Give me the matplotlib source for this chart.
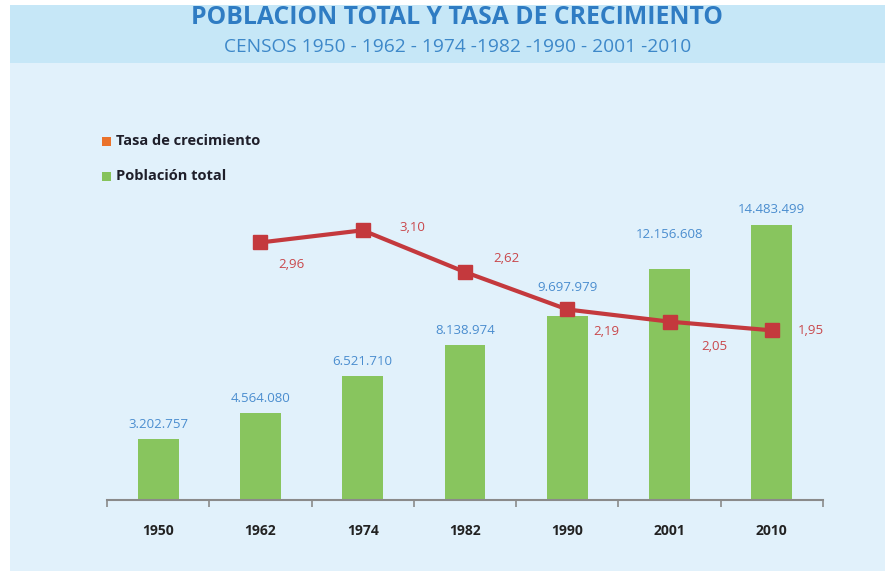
import matplotlib
matplotlib.use("Agg")
import matplotlib.pyplot as plt
from matplotlib.patches import Rectangle

years = ["1950", "1962", "1974", "1982", "1990", "2001", "2010"]
population = [3202757, 4564080, 6521710, 8138974, 9697979, 12156608, 14483499]
pop_labels = ["3.202.757", "4.564.080", "6.521.710", "8.138.974", "9.697.979", "12.156.608", "14.483.499"]
rate_years = ["1962", "1974", "1982", "1990", "2001", "2010"]
rate = [2.96, 3.10, 2.62, 2.19, 2.05, 1.95]
rate_labels = ["2,96", "3,10", "2,62", "2,19", "2,05", "1,95"]

FONT = "Open Sans"
plt.rcParams["font.family"] = [FONT, "DejaVu Sans"]

fig = plt.figure(figsize=(8.85, 5.71), dpi=100)
fig.patch.set_facecolor("white")
# background panels
fig.add_artist(Rectangle((10/885, 0), 1, 1 - 63/571, transform=fig.transFigure,
                         facecolor="#e1f1fb", edgecolor="none", zorder=0))
fig.add_artist(Rectangle((10/885, 1 - 63/571), 1, (63 - 5)/571, transform=fig.transFigure,
                         facecolor="#c6e7f7", edgecolor="none", zorder=0))

fig.text(457/885, 1 - 18/571, "POBLACION TOTAL Y TASA DE CRECIMIENTO", ha="center", va="center",
         fontsize=17.8, fontweight="bold", color="#2f7cc3")
fig.text(458/885, 1 - 47/571, "CENSOS 1950 - 1962 - 1974 -1982 -1990 - 2001 -2010", ha="center",
         va="center", fontsize=13.8, color="#3d88c9")

ax = fig.add_axes([107/885, 1 - 500/571, (823 - 107)/885, 300/571])
ax.set_facecolor("none")
x = list(range(len(years)))
ax.bar(x, population, width=0.4, color="#88c55e", zorder=2)
ax.set_xlim(-0.5, len(years) - 0.5)
ax.set_ylim(0, 300/19.0 * 1e6)

pop_off = [6, 6, 6, 6, 16, 20, 6]
for xi, v, lab, off in zip(x, population, pop_labels, pop_off):
    ax.annotate(lab, (xi, v), xytext=(0, off), textcoords="offset points", ha="center", va="bottom",
                fontsize=9.5, color="#4a8dcf")

for s in ["top", "right", "left"]:
    ax.spines[s].set_visible(False)
ax.spines["bottom"].set_color("#8a8a8a")
ax.spines["bottom"].set_linewidth(1.5)
ax.set_yticks([])
ax.set_xticks([i - 0.5 for i in range(len(years) + 1)], minor=False)
ax.set_xticklabels([])
ax.tick_params(axis="x", which="major", length=5, width=1.2, color="#8a8a8a", direction="out")
ax.set_xticks(x, minor=True)
ax.set_xticklabels(years, minor=True, fontsize=10, fontweight="bold", color="#222222")
ax.tick_params(axis="x", which="minor", length=0, pad=17)

ax2 = ax.twinx()
ax2.set_ylim(0, 300/87.0)
ax2.axis("off")
rx = [years.index(y) for y in rate_years]
ax2.plot(rx, rate, color="#c4393d", linewidth=3, marker="s", markersize=10, zorder=3)
rate_off = [(22, -16), (36, 2), (30, 10), (28, -16), (32, -18), (28, 0)]
for xi, v, lab, (dx, dy) in zip(rx, rate, rate_labels, rate_off):
    ax2.annotate(lab, (xi, v), xytext=(dx, dy), textcoords="offset points", ha="center", va="center",
                 fontsize=9.5, color="#c9474b")

# legend
fig.add_artist(Rectangle((102/885, 1 - 146/571), 9/885, 9/571, transform=fig.transFigure,
                         facecolor="#ea722b", edgecolor="none"))
fig.add_artist(Rectangle((102/885, 1 - 181/571), 9/885, 9/571, transform=fig.transFigure,
                         facecolor="#86c35b", edgecolor="none"))
fig.text(116/885, 1 - 141/571, "Tasa de crecimiento", ha="left", va="center", fontsize=10.5,
         fontweight="bold", color="#1f1f2a")
fig.text(116/885, 1 - 176/571, "Población total", ha="left", va="center", fontsize=10.5,
         fontweight="bold", color="#1f1f2a")

fig.savefig("out.png", dpi=100)
